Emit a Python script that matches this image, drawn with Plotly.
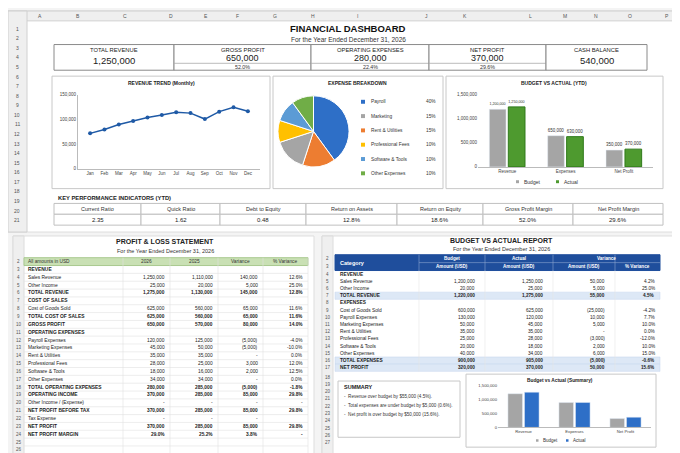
import plotly.graph_objects as go

W, H = 680, 453
def X(p): return p / W
def Y(p): return 1 - p / H

months = ["Jan","Feb","Mar","Apr","May","Jun","Jul","Aug","Sep","Oct","Nov","Dec"]
revenue = [72000, 80000, 90000, 97000, 104000, 109000, 115000, 113000, 101000, 116000, 125000, 117000]

exp_labels = ["Payroll","Marketing","Rent & Utilities","Professional Fees","Software & Tools","Other Expenses"]
exp_values = [40, 15, 15, 10, 10, 10]
exp_colors = ["#2e6fc7","#a5a5a5","#ed7d31","#ffc000","#5b9bd5","#70ad47"]
pie_order = [0, 2, 1, 3, 4, 5]

bva_cats = ["Revenue","Expenses","Net Profit"]
bva_budget = [1200000, 650000, 350000]
bva_actual = [1250000, 630000, 370000]

sum_budget = [1220000, 900000, 320000]
sum_actual = [1275000, 905000, 370000]

kpi_cards = [("TOTAL REVENUE","1,250,000",""),("GROSS PROFIT","650,000","52.0%"),
             ("OPERATING EXPENSES","280,000","22.4%"),("NET PROFIT","370,000","29.6%"),
             ("CASH BALANCE","540,000","")]
kpi_names = ["Current Ratio","Quick Ratio","Debt to Equity","Return on Assets","Return on Equity","Gross Profit Margin","Net Profit Margin"]
kpi_vals = ["2.35","1.62","0.48","12.8%","18.6%","52.0%","29.6%"]

pl_header = ["All amounts in USD", "2026", "2025", "Variance", "% Variance"]
pl_rows = [
 ("REVENUE","","","",""),("Sales Revenue","1,250,000","1,110,000","140,000","12.6%"),
 ("Other Income","25,000","20,000","5,000","25.0%"),("TOTAL REVENUE","1,275,000","1,130,000","145,000","12.8%"),
 ("COST OF SALES","","","",""),("Cost of Goods Sold","625,000","560,000","65,000","11.6%"),
 ("TOTAL COST OF SALES","625,000","560,000","65,000","11.6%"),("GROSS PROFIT","650,000","570,000","80,000","14.0%"),
 ("OPERATING EXPENSES","","","",""),("Payroll Expenses","120,000","125,000","(5,000)","-4.0%"),
 ("Marketing Expenses","45,000","50,000","(5,000)","-10.0%"),("Rent & Utilities","35,000","35,000","-","0.0%"),
 ("Professional Fees","28,000","25,000","3,000","12.0%"),("Software & Tools","18,000","16,000","2,000","12.5%"),
 ("Other Expenses","34,000","34,000","-","0.0%"),("TOTAL OPERATING EXPENSES","280,000","285,000","(5,000)","-1.8%"),
 ("OPERATING INCOME","370,000","285,000","85,000","29.8%"),("Other Income / (Expense)","-","-","-","-"),
 ("NET PROFIT BEFORE TAX","370,000","285,000","85,000","29.8%"),("Tax Expense","-","-","-",""),
 ("NET PROFIT","370,000","285,000","85,000","29.8%"),("NET PROFIT MARGIN","29.0%","25.2%","3.8%","-"),
 ("","","","",""),("","","","",""),
]
bud_rows = [
 ("REVENUE","","","",""),("Sales Revenue","1,200,000","1,250,000","50,000","4.2%"),
 ("Other Income","20,000","25,000","5,000","25.0%"),("TOTAL REVENUE","1,220,000","1,275,000","55,000","4.5%"),
 ("EXPENSES","","","",""),("Cost of Goods Sold","600,000","625,000","(25,000)","-4.2%"),
 ("Payroll Expenses","130,000","120,000","10,000","7.7%"),("Marketing Expenses","50,000","45,000","5,000","10.0%"),
 ("Rent & Utilities","35,000","35,000","-","0.0%"),("Professional Fees","25,000","28,000","(3,000)","-12.0%"),
 ("Software & Tools","20,000","18,000","2,000","10.0%"),("Other Expenses","40,000","34,000","6,000","15.0%"),
 ("TOTAL EXPENSES","900,000","905,000","(5,000)","-0.6%"),("NET PROFIT","320,000","370,000","50,000","15.6%"),
]
summary_lines = ["Revenue over budget by $55,000 (4.5%).",
                 "Total expenses are under budget by $5,000 (0.6%).",
                 "Net profit is over budget by $50,000 (15.6%)."]

FONT = "Liberation Sans, Arial"
fig = go.Figure()
shapes, ann = [], []

def rect(x0, y0, x1, y1, fill="rgba(0,0,0,0)", line="#c8c8c8", lw=1):
    shapes.append(dict(type="rect", xref="paper", yref="paper", x0=X(x0), x1=X(x1), y0=Y(y1), y1=Y(y0),
                       fillcolor=fill, line=dict(color=line, width=lw), layer="below"))
def hline(x0, x1, y, color="#ddd", w=0.6):
    shapes.append(dict(type="line", xref="paper", yref="paper", x0=X(x0), x1=X(x1), y0=Y(y), y1=Y(y), line=dict(color=color, width=w), layer="below"))
def vline(x, y0, y1, color="#ddd", w=0.6):
    shapes.append(dict(type="line", xref="paper", yref="paper", x0=X(x), x1=X(x), y0=Y(y0), y1=Y(y1), line=dict(color=color, width=w), layer="below"))
def text(x, y, s, size=6, color="#222", bold=False, anchor="center"):
    ann.append(dict(xref="paper", yref="paper", x=X(x), y=Y(y), text=f"<b>{s}</b>" if bold else s,
                    showarrow=False, xanchor=anchor, yanchor="middle", font=dict(size=size, color=color, family=FONT)))

# background panels
rect(0, 0, 680, 224, fill="white", line="#dddddd")
rect(0, 0, 680, 10, fill="#efefef", line="#d0d0d0")
rect(0, 0, 19, 224, fill="#efefef", line="#d0d0d0")
cols = list("ABCDEFGHIJKLMNOP")
colx = [32,70,117,163,198,229,267,305,350,418,457,522,557,588,622,659]
for c, x in zip(cols, colx):
    text(x, 5, c, size=5, color="#555")
for r in range(1, 22):
    text(9, 18 + (r-1)*9.7, str(r), size=5, color="#555")

text(340, 18, "FINANCIAL DASHBOARD", size=9.5, color="#111", bold=True)
text(340, 29, "For the Year Ended December 31, 2026", size=6.5, color="#333")

cx = [46, 166, 303, 421, 538, 639]
for i, (t, v, p) in enumerate(kpi_cards):
    x0, x1 = cx[i], cx[i+1]
    rect(x0, 34, x1, 60, fill="white", line="#8a8a8a")
    mid = (x0 + x1) / 2
    text(mid, 39.5, t, size=5.8, color="#222")
    if p:
        text(mid, 47.5, v, size=9, color="#222")
        hline(x0, x1, 53, "#aaa", 0.8)
        text(mid, 56.5, p, size=5.3, color="#333")
    else:
        text(mid, 50, v, size=9.5, color="#222")

rect(44, 66, 262, 180, fill="white", line="#c8c8c8")
rect(265, 66, 435, 180, fill="white", line="#c8c8c8")
rect(438, 66, 655, 180, fill="white", line="#c8c8c8")
text(153, 73, "REVENUE TREND (Monthly)", size=5, bold=True)
text(350, 73, "EXPENSE BREAKDOWN", size=5, bold=True)
text(546, 73, "BUDGET VS ACTUAL (YTD)", size=5, bold=True)

text(48, 190, "KEY PERFORMANCE INDICATORS (YTD)", size=5.8, bold=True, anchor="left")
kx = [46, 133, 212, 298, 389, 475, 565, 655]
for i in range(7):
    rect(kx[i], 195, kx[i+1], 206, fill="white", line="#c0c0c0")
    rect(kx[i], 206, kx[i+1], 217, fill="white", line="#c0c0c0")
    text((kx[i]+kx[i+1])/2, 200.5, kpi_names[i], size=5.5, color="#333")
    text((kx[i]+kx[i+1])/2, 211.5, kpi_vals[i], size=6, color="#222")

fig.add_trace(go.Scatter(x=months, y=revenue, mode="lines+markers", line=dict(color="#1f5aa6", width=1.5),
                         marker=dict(size=4, color="#1f5aa6"), xaxis="x", yaxis="y", showlegend=False))
fig.add_trace(go.Pie(labels=[exp_labels[i] for i in pie_order], values=[exp_values[i] for i in pie_order],
                     marker=dict(colors=[exp_colors[i] for i in pie_order], line=dict(color="white", width=1)),
                     sort=False, direction="clockwise", rotation=0, textinfo="none", showlegend=False,
                     domain=dict(x=[X(268), X(343)], y=[Y(158), Y(86)])))
for i, (l, v) in enumerate(zip(exp_labels, exp_values)):
    yy = 92 + i * 14.5
    shapes.append(dict(type="rect", xref="paper", yref="paper", x0=X(353), x1=X(357), y0=Y(yy+2), y1=Y(yy-2),
                       fillcolor=exp_colors[i], line=dict(width=0)))
    text(361, yy, l, size=4.8, color="#333", anchor="left")
    text(416, yy, f"{v}%", size=4.8, color="#333", anchor="left")

fig.add_trace(go.Bar(x=bva_cats, y=bva_budget, name="Budget", marker=dict(color="#a5a5a5"), xaxis="x2", yaxis="y2",
                     text=[f"{v:,}" for v in bva_budget], textposition="outside", textfont=dict(size=4.5, color="#333"), cliponaxis=False))
fig.add_trace(go.Bar(x=bva_cats, y=bva_actual, name="Actual", marker=dict(color="#4e9a2f", line=dict(color="#2f7a1a", width=1)),
                     xaxis="x2", yaxis="y2",
                     text=[f"{v:,}" for v in bva_actual], textposition="outside", textfont=dict(size=4.5, color="#333"), cliponaxis=False))
for i, (n, c) in enumerate([("Budget", "#a5a5a5"), ("Actual", "#4e9a2f")]):
    x0 = 508 + i * 40
    shapes.append(dict(type="rect", xref="paper", yref="paper", x0=X(x0), x1=X(x0+3), y0=Y(174.5), y1=Y(171.5), fillcolor=c, line=dict(width=0)))
    text(x0 + 6, 173, n, size=5, color="#333", anchor="left")

# bottom panels
rect(5, 228, 306, 452, fill="white", line="#dddddd")
rect(314, 228, 672, 452, fill="white", line="#dddddd")
text(157, 234, "PROFIT & LOSS STATEMENT", size=7, bold=True)
text(157, 243, "For the Year Ended December 31, 2026", size=5.5, color="#333")
text(493, 233, "BUDGET VS ACTUAL REPORT", size=7, bold=True)
text(493, 241, "For the Year Ended December 31, 2026", size=5.5, color="#333")

bold_set = {"REVENUE","TOTAL REVENUE","COST OF SALES","TOTAL COST OF SALES","GROSS PROFIT","OPERATING EXPENSES",
            "TOTAL OPERATING EXPENSES","OPERATING INCOME","NET PROFIT BEFORE TAX","NET PROFIT","NET PROFIT MARGIN","EXPENSES","TOTAL EXPENSES"}

# P&L grid
rect(5, 228, 16, 452, fill="#efefef", line="#dcdcdc")
plx = [16, 115, 162, 210, 255, 300]
pl_top, rh = 250, 7.95
rect(plx[0], pl_top, plx[-1], pl_top + rh, fill="#c9e0b4", line="#a9c98f")
text(10.5, pl_top + rh/2, "2", size=4.5, color="#555")
for j, h in enumerate(pl_header):
    if j == 0:
        text(plx[0] + 2, pl_top + rh/2, h, size=4.8, color="#333", anchor="left")
    else:
        text((plx[j] + plx[j+1]) / 2, pl_top + rh/2, h, size=4.8, color="#333")
for i, row in enumerate(pl_rows):
    y0 = pl_top + rh * (i + 1)
    hline(plx[0], plx[-1], y0 + rh, "#e0e0e0")
    ym = y0 + rh / 2
    text(10.5, ym, str(i + 3), size=4.5, color="#555")
    b = row[0] in bold_set
    text(plx[0] + 2, ym, row[0], size=4.9, color="#222", bold=b, anchor="left")
    for j in range(1, 5):
        if row[j]:
            text(plx[j+1] - 3, ym, row[j], size=4.8, color="#222", bold=b, anchor="right")
for x in plx[1:]:
    vline(x, pl_top, pl_top + rh * (len(pl_rows) + 1), "#e0e0e0")

# Budget grid
rect(314, 228, 325, 452, fill="#efefef", line="#dcdcdc")
bx = [327, 411, 477, 545, 607, 652]
bt, bh = 247, 7.3
rect(bx[0], bt, bx[-1], bt + 16, fill="#1f4e9c", line="#1f4e9c")
hline(bx[1], bx[-1], bt + 8, "#8aa4d0", 0.6)
for x in bx[1:-1]:
    vline(x, bt, bt + 16, "#8aa4d0", 0.6)
text(bx[0] + 3, bt + 8, "Category", size=5.5, color="white", bold=True, anchor="left")
text((bx[1]+bx[2])/2, bt + 4, "Budget", size=4.6, color="white", bold=True)
text((bx[2]+bx[3])/2, bt + 4, "Actual", size=4.6, color="white", bold=True)
text((bx[3]+bx[5])/2, bt + 4, "Variance", size=4.6, color="white", bold=True)
for j in range(1, 4):
    text((bx[j]+bx[j+1])/2, bt + 12, "Amount (USD)", size=4.6, color="white", bold=True)
text((bx[4]+bx[5])/2, bt + 12, "% Variance", size=4.6, color="white", bold=True)
text(319.5, bt + 4, "2", size=4.5, color="#555")
text(319.5, bt + 12, "3", size=4.5, color="#555")
for i, row in enumerate(bud_rows):
    y0 = bt + 16 + bh * i
    ym = y0 + bh / 2
    if row[0] in ("TOTAL REVENUE", "TOTAL EXPENSES", "NET PROFIT"):
        rect(bx[0], y0, bx[-1], y0 + bh, fill="#dde8f6", line="#c5d5ec", lw=0.5)
    text(319.5, ym, str(i + 4), size=4.5, color="#555")
    b = row[0] in bold_set
    text(bx[0] + 3, ym, row[0], size=4.8, color="#222", bold=b, anchor="left")
    for j in range(1, 5):
        if row[j]:
            text(bx[j+1] - 8 if j < 4 else bx[j+1] - 3, ym, row[j], size=4.7, color="#222", bold=b, anchor="right")
for x in bx[1:-1]:
    vline(x, bt + 16, bt + 16 + bh * len(bud_rows), "#e6e6e6")
for k, r in enumerate(range(18, 28)):
    text(319.5, 371 + k * 7.4, str(r), size=4.5, color="#555")

rect(330, 375, 452, 432, fill="white", line="#c8c8c8")
text(334, 381, "SUMMARY", size=5.5, bold=True, anchor="left")
for i, s in enumerate(summary_lines):
    text(334, 391 + i * 9, "-  " + s, size=4.6, color="#333", anchor="left")

rect(458, 368, 648, 442, fill="white", line="#c8c8c8")
text(552, 374, "Budget vs Actual (Summary)", size=4.8, bold=True)
fig.add_trace(go.Bar(x=bva_cats, y=sum_budget, marker=dict(color="#a5a5a5"), xaxis="x3", yaxis="y3", showlegend=False))
fig.add_trace(go.Bar(x=bva_cats, y=sum_actual, marker=dict(color="#2e6fc7"), xaxis="x3", yaxis="y3", showlegend=False))
for i, (n, c) in enumerate([("Budget", "#a5a5a5"), ("Actual", "#2e6fc7")]):
    x0 = 528 + i * 30
    shapes.append(dict(type="rect", xref="paper", yref="paper", x0=X(x0), x1=X(x0+2.5), y0=Y(436.5), y1=Y(434), fillcolor=c, line=dict(width=0)))
    text(x0 + 5, 435, n, size=4.5, color="#333", anchor="left")

tick = dict(size=4.5, color="#444", family=FONT)
fig.update_layout(
    width=W, height=H, margin=dict(l=0, r=0, t=0, b=0), paper_bgcolor="#f4f4f4", plot_bgcolor="white",
    showlegend=False, barmode="group", bargap=0.35, bargroupgap=0.12, font=dict(family=FONT),
    xaxis=dict(domain=[X(70), X(252)], anchor="y", tickfont=tick, showgrid=False, showline=True, linecolor="#bbb", ticks=""),
    yaxis=dict(domain=[Y(160), Y(85)], anchor="x", range=[0, 150000], tickvals=[0, 50000, 100000, 150000],
               tickformat=",", tickfont=tick, showgrid=False, showline=True, linecolor="#bbb"),
    xaxis2=dict(domain=[X(470), X(645)], anchor="y2", tickfont=tick, showgrid=False, showline=True, linecolor="#bbb"),
    yaxis2=dict(domain=[Y(158), Y(85)], anchor="x2", range=[0, 1500000], tickvals=[0, 500000, 1000000, 1500000],
                tickformat=",", tickfont=tick, showgrid=False),
    xaxis3=dict(domain=[X(490), X(643)], anchor="y3", tickfont=dict(size=4.2, color="#444", family=FONT), showgrid=False, showline=True, linecolor="#bbb"),
    yaxis3=dict(domain=[Y(422), Y(380)], anchor="x3", range=[0, 1500000], tickvals=[0, 500000, 1000000, 1500000],
                tickformat=",", tickfont=dict(size=4.2, color="#444", family=FONT), showgrid=False),
    shapes=shapes, annotations=ann,
)
fig.write_html("out.html")
